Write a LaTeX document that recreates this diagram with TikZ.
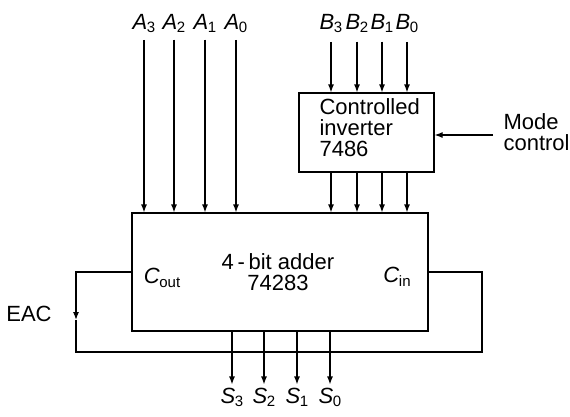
\documentclass[tikz,border=0pt]{standalone}
\usepackage{fontspec}
\setmainfont{Liberation Sans}
\usetikzlibrary{arrows.meta, positioning, calc}
\newcommand{\pinname}[2]{\textit{#1}\kern-0.5pt\raisebox{-0.3ex}{\fontsize{15}{15}\selectfont #2}}
\tikzset{
  chipbox/.style={rectangle, draw, line width=1.2pt, inner sep=0pt},
  sigline/.style={line width=1.2pt},
  sigarrow/.style={-{Latex[length=8pt,width=6pt]}, line width=1.2pt},
  pinlabel/.style={inner sep=0pt, anchor=base}
}

\begin{document}
\begin{tikzpicture}[x=1pt, y=-1pt, font=\fontsize{22}{21}\selectfont]
          \useasboundingbox (0,0) rectangle (570,416);
          % Draw the adder and the inverter
          \node[chipbox, minimum width=296pt, minimum height=118pt] (adder) at (280,272) {};
          \node[chipbox, minimum width=135pt, minimum height=79pt] (inv) at (366.5,132.5) {};
          \node[align=center] (addtxt) at (278,272) {4\,-\,bit adder\\74283};
          \node[align=left, anchor=west] (invtxt) at (316,128) {Controlled\\inverter\\7486};
          \node (cout) at (162,278) {\pinname{C}{out}};
          \node (cin) at (397,277) {\pinname{C}{in}};
          
          % Draw A inputs
          \foreach \x/\i in {144/3, 174/2, 205/1, 236/0} {
            \node[pinlabel] (a\i) at (\x,29) {\pinname{A}{\i}};
            \draw[sigarrow, shorten <=7pt] (a\i.south) -- (a\i.south |- adder.north);
          }
          
          % Draw B inputs through the inverter
          \foreach \x/\i in {331/3, 357/2, 382/1, 407/0} {
            \node[pinlabel] (b\i) at (\x,29) {\pinname{B}{\i}};
            \draw[sigarrow, shorten <=9pt] (b\i.south) -- (b\i.south |- inv.north);
            \draw[sigarrow] (b\i.south |- inv.south) -- (b\i.south |- adder.north);
          }
          
          % Draw mode control
          \node[align=left, anchor=west] (mode) at (500,132) {Mode\\control};
          \coordinate (mc) at (493,135);
          \draw[sigarrow] (mc) -- (mc -| inv.east);
          
          % Draw S outputs
          \foreach \x/\i in {232/3, 264/2, 297/1, 330/0} {
            \node[pinlabel] (s\i) at (\x,403) {\pinname{S}{\i}};
            \draw[sigarrow, shorten >=3pt] (s\i.north |- adder.south) -- (s\i.north);
          }
          
          % Draw end-around carry
          \node (eac) at (29,314) {EAC};
          \coordinate (eacmid) at (76,320);
          \coordinate (eacbot) at (76,352);
          \coordinate (cinbot) at (482,352);
          \draw[sigarrow] (adder.west) -| (eacmid);
          \draw[sigline] (eacmid) -- (eacbot) -- (cinbot) |- (adder.east);
        \end{tikzpicture}
\end{document}
